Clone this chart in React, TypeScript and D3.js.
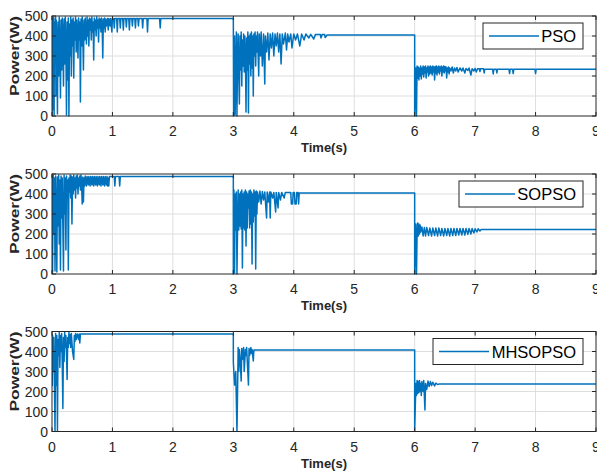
import React from 'react';
import * as d3 from 'd3';

// tick labels
const xTicks = [0, 1, 2, 3, 4, 5, 6, 7, 8, 9];
const yTicks = [0, 100, 200, 300, 400, 500];
const seriesNames = ['PSO', 'SOPSO', 'MHSOPSO'];

// [time (s), power (W)]
const psoA: [number, number][] = [
  [0, 0], [0.005, 480], [0.01, 30], [0.015, 495], [0.02, 250], [0.03, 490], [0.035, 5], [0.04, 470], [0.05, 300], [0.06, 495],
  [0.065, 100], [0.07, 480], [0.08, 380], [0.09, 10], [0.1, 470], [0.11, 200], [0.12, 495], [0.13, 340], [0.14, 90], [0.15, 480],
  [0.16, 230], [0.17, 490], [0.18, 400], [0.19, 150], [0.2, 485], [0.21, 260], [0.22, 495], [0.23, 330], [0.24, 5], [0.25, 470],
  [0.26, 180], [0.27, 490], [0.28, 0], [0.29, 460], [0.3, 300], [0.31, 495], [0.32, 200], [0.33, 480], [0.34, 350], [0.35, 490],
  [0.36, 190], [0.37, 470], [0.38, 380], [0.39, 495], [0.4, 320], [0.41, 480], [0.42, 410], [0.43, 290], [0.44, 490], [0.45, 380],
  [0.46, 470], [0.47, 70], [0.48, 485], [0.49, 350], [0.5, 495], [0.51, 400], [0.52, 230], [0.53, 480], [0.54, 380], [0.55, 490],
  [0.56, 420], [0.57, 360], [0.58, 495], [0.59, 400], [0.6, 480], [0.61, 350], [0.62, 490], [0.63, 430], [0.64, 485], [0.65, 380],
  [0.66, 495], [0.67, 420], [0.68, 470], [0.69, 280], [0.7, 490], [0.71, 430], [0.72, 480], [0.73, 400], [0.74, 495], [0.75, 440],
  [0.76, 480], [0.77, 370], [0.78, 490], [0.79, 440], [0.8, 485], [0.81, 420], [0.82, 490], [0.83, 450], [0.84, 290], [0.85, 485],
  [0.86, 440], [0.87, 490], [0.88, 420], [0.89, 485], [0.9, 450], [0.92, 488], [0.93, 430], [0.94, 488], [0.96, 450], [0.97, 488],
  [0.99, 420], [1.0, 488], [1.02, 488], [1.03, 440], [1.04, 488], [1.07, 488], [1.08, 420], [1.09, 488], [1.12, 488], [1.13, 440],
  [1.14, 488], [1.17, 488], [1.18, 430], [1.19, 488], [1.22, 488], [1.23, 445], [1.24, 488], [1.27, 488], [1.28, 430], [1.29, 488],
  [1.32, 488], [1.33, 450], [1.34, 488], [1.37, 488], [1.38, 440], [1.39, 488], [1.42, 488], [1.43, 450], [1.44, 488], [1.49, 488],
  [1.5, 440], [1.51, 488], [1.57, 488], [1.58, 420], [1.59, 488], [1.78, 488], [1.79, 440], [1.8, 488], [3.0, 488],
];
const psoB: [number, number][] = [
  [3.0, 488], [3.005, 0], [3.02, 400], [3.03, 5], [3.04, 220], [3.05, 420], [3.06, 0], [3.07, 300], [3.08, 410], [3.09, 200],
  [3.1, 60], [3.11, 400], [3.12, 230], [3.13, 420], [3.14, 150], [3.15, 380], [3.16, 250], [3.17, 410], [3.18, 220], [3.19, 400],
  [3.2, 300], [3.21, 20], [3.22, 390], [3.23, 230], [3.24, 420], [3.25, 15], [3.26, 400], [3.27, 260], [3.28, 410], [3.29, 200],
  [3.3, 420], [3.31, 240], [3.32, 400], [3.33, 100], [3.34, 410], [3.35, 300], [3.36, 420], [3.37, 250], [3.38, 400], [3.39, 320],
  [3.4, 420], [3.42, 200], [3.43, 410], [3.45, 300], [3.46, 420], [3.48, 250], [3.5, 410], [3.52, 160], [3.53, 400], [3.55, 320],
  [3.57, 415], [3.59, 280], [3.61, 410], [3.63, 340], [3.65, 415], [3.67, 300], [3.69, 410], [3.71, 350], [3.73, 415], [3.75, 320],
  [3.77, 410], [3.79, 260], [3.81, 410], [3.83, 360], [3.86, 415], [3.88, 330], [3.9, 410], [3.92, 370], [3.95, 410], [3.97, 340],
  [4.0, 410], [4.03, 380], [4.06, 410], [4.1, 350], [4.13, 410], [4.17, 380], [4.2, 410], [4.25, 390], [4.28, 408], [4.33, 385],
  [4.36, 408], [4.44, 408], [4.45, 390], [4.47, 408], [4.51, 408], [4.52, 392], [4.55, 405], [6.0, 405],
];
const psoC: [number, number][] = [
  [6.0, 405], [6.0, 0], [6.02, 240], [6.03, 0], [6.04, 250], [6.05, 190], [6.06, 245], [6.07, 180], [6.08, 240], [6.09, 200],
  [6.1, 250], [6.11, 185], [6.12, 240], [6.13, 210], [6.14, 250], [6.15, 195], [6.16, 245], [6.17, 215], [6.18, 250], [6.19, 190],
  [6.2, 240], [6.21, 220], [6.22, 250], [6.23, 200], [6.24, 245], [6.25, 210], [6.26, 250], [6.27, 215], [6.28, 245], [6.29, 205],
  [6.3, 250], [6.31, 220], [6.32, 245], [6.33, 180], [6.34, 248], [6.35, 215], [6.36, 250], [6.37, 205], [6.38, 245], [6.39, 220],
  [6.4, 250], [6.41, 210], [6.42, 245], [6.43, 225], [6.44, 250], [6.45, 200], [6.46, 245], [6.47, 220], [6.48, 250], [6.49, 215],
  [6.5, 248], [6.51, 225], [6.52, 245], [6.53, 190], [6.54, 240], [6.55, 220], [6.56, 245], [6.57, 210], [6.58, 240], [6.6, 225],
  [6.62, 245], [6.64, 215], [6.66, 240], [6.68, 225], [6.7, 243], [6.72, 220], [6.75, 240], [6.78, 225], [6.8, 240], [6.83, 215],
  [6.85, 238], [6.88, 228], [6.9, 240], [6.93, 205], [6.95, 236], [6.98, 225], [7.0, 238], [7.02, 220], [7.04, 236], [7.07, 236],
  [7.08, 222], [7.09, 236], [7.14, 236], [7.15, 215], [7.16, 234], [7.29, 234], [7.3, 210], [7.31, 234], [7.35, 234], [7.36, 215],
  [7.37, 234], [7.56, 234], [7.57, 212], [7.58, 234], [7.62, 234], [7.63, 212], [7.64, 234], [7.99, 234], [8.0, 212], [8.01, 234],
  [9, 234],
];

const sopsoA: [number, number][] = [
  [0, 0], [0.005, 490], [0.01, 10], [0.02, 495], [0.03, 200], [0.04, 480], [0.05, 15], [0.06, 490], [0.07, 300], [0.08, 10],
  [0.09, 485], [0.1, 240], [0.11, 495], [0.12, 150], [0.13, 470], [0.14, 20], [0.15, 490], [0.16, 280], [0.17, 480], [0.18, 230],
  [0.19, 15], [0.2, 495], [0.21, 300], [0.22, 480], [0.23, 120], [0.24, 490], [0.25, 380], [0.26, 470], [0.27, 20], [0.28, 480],
  [0.29, 410], [0.3, 495], [0.31, 380], [0.32, 490], [0.33, 250], [0.34, 485], [0.35, 400], [0.36, 495], [0.37, 420], [0.38, 480],
  [0.39, 380], [0.4, 490], [0.41, 430], [0.42, 495], [0.43, 400], [0.44, 480], [0.45, 440], [0.46, 490], [0.47, 420], [0.48, 495],
  [0.49, 440], [0.5, 350], [0.51, 485], [0.52, 360], [0.53, 480], [0.54, 440], [0.55, 490], [0.57, 440], [0.58, 488], [0.6, 445],
  [0.61, 488], [0.63, 440], [0.64, 488], [0.66, 445], [0.67, 488], [0.69, 440], [0.7, 488], [0.72, 445], [0.73, 488], [0.75, 440],
  [0.76, 488], [0.78, 445], [0.79, 488], [0.81, 440], [0.82, 488], [0.84, 445], [0.85, 488], [0.87, 440], [0.88, 488], [0.9, 445],
  [0.91, 488], [0.92, 440], [0.93, 480], [0.94, 440], [0.95, 488], [1.03, 488], [1.04, 440], [1.05, 488], [1.11, 488], [1.12, 440],
  [1.13, 488], [3.0, 488],
];
const sopsoB: [number, number][] = [
  [3.0, 488], [3.0, 0], [3.01, 420], [3.02, 5], [3.03, 400], [3.04, 220], [3.05, 410], [3.06, 0], [3.07, 230], [3.08, 420],
  [3.09, 220], [3.1, 400], [3.11, 240], [3.12, 410], [3.13, 225], [3.14, 420], [3.15, 30], [3.16, 400], [3.17, 230], [3.18, 410],
  [3.19, 220], [3.2, 420], [3.21, 140], [3.22, 410], [3.23, 230], [3.24, 400], [3.25, 330], [3.26, 415], [3.27, 230], [3.28, 420],
  [3.29, 250], [3.3, 410], [3.31, 50], [3.32, 400], [3.33, 260], [3.34, 420], [3.35, 290], [3.36, 410], [3.37, 25], [3.38, 415],
  [3.39, 300], [3.4, 410], [3.42, 360], [3.44, 415], [3.46, 350], [3.48, 412], [3.5, 370], [3.52, 410], [3.55, 280], [3.56, 410],
  [3.58, 360], [3.6, 410], [3.61, 280], [3.62, 410], [3.65, 380], [3.67, 408], [3.7, 310], [3.71, 408], [3.74, 330], [3.75, 408],
  [3.78, 370], [3.8, 408], [3.84, 380], [3.86, 408], [3.95, 408], [3.96, 350], [3.98, 350], [3.99, 408], [4.01, 408], [4.02, 350],
  [4.04, 350], [4.05, 408], [4.07, 408], [4.08, 350], [4.09, 405], [6.0, 405],
];
const sopsoC: [number, number][] = [
  [6.0, 405], [6.0, 0], [6.02, 250], [6.03, 0], [6.04, 200], [6.05, 255], [6.06, 190], [6.07, 250], [6.08, 200], [6.09, 245],
  [6.1, 210], [6.12, 235], [6.14, 190], [6.16, 232], [6.18, 190], [6.2, 232], [6.23, 192], [6.25, 230], [6.28, 190], [6.3, 230],
  [6.33, 192], [6.35, 230], [6.38, 190], [6.4, 230], [6.43, 192], [6.45, 228], [6.48, 190], [6.5, 228], [6.53, 192], [6.55, 228],
  [6.58, 190], [6.6, 228], [6.63, 192], [6.65, 228], [6.68, 192], [6.7, 228], [6.73, 195], [6.75, 228], [6.78, 195], [6.8, 228],
  [6.83, 195], [6.85, 228], [6.88, 198], [6.9, 228], [6.93, 200], [6.95, 227], [6.98, 205], [7.0, 226], [7.03, 210], [7.05, 226],
  [7.08, 215], [7.1, 222], [9, 222],
];

const mhsopsoA: [number, number][] = [
  [0, 488], [0.005, 230], [0.01, 480], [0.02, 300], [0.03, 470], [0.05, 0], [0.06, 490], [0.07, 230], [0.08, 480], [0.09, 0],
  [0.1, 460], [0.11, 380], [0.12, 495], [0.13, 320], [0.14, 480], [0.15, 400], [0.16, 490], [0.17, 330], [0.18, 115], [0.19, 470],
  [0.2, 350], [0.21, 495], [0.22, 420], [0.23, 480], [0.24, 380], [0.25, 260], [0.26, 470], [0.27, 420], [0.28, 495], [0.29, 440],
  [0.3, 485], [0.31, 420], [0.32, 490], [0.33, 445], [0.34, 400], [0.36, 360], [0.37, 480], [0.38, 450], [0.39, 490], [0.4, 460],
  [0.42, 488], [0.44, 460], [0.45, 488], [0.46, 443], [0.47, 488], [3.0, 488],
];
const mhsopsoB: [number, number][] = [
  [3.0, 488], [3.0, 350], [3.02, 232], [3.04, 300], [3.06, 0], [3.07, 200], [3.08, 420], [3.09, 300], [3.1, 410], [3.11, 380],
  [3.13, 252], [3.14, 415], [3.15, 360], [3.17, 420], [3.18, 300], [3.2, 410], [3.21, 380], [3.22, 420], [3.25, 232], [3.26, 415],
  [3.27, 380], [3.29, 420], [3.3, 390], [3.31, 410], [3.33, 353], [3.34, 408], [3.35, 408], [6.0, 408],
];
const mhsopsoC: [number, number][] = [
  [6.0, 408], [6.0, 0], [6.02, 240], [6.03, 180], [6.04, 255], [6.05, 190], [6.06, 250], [6.07, 195], [6.08, 255], [6.09, 200],
  [6.1, 240], [6.11, 180], [6.12, 250], [6.14, 200], [6.15, 255], [6.17, 108], [6.18, 240], [6.2, 210], [6.22, 252], [6.24, 225],
  [6.26, 250], [6.28, 230], [6.3, 246], [6.33, 228], [6.35, 242], [6.38, 235], [6.4, 237], [9, 237],
];

const seriesData = [
  psoA.concat(psoB, psoC),
  sopsoA.concat(sopsoB, sopsoC),
  mhsopsoA.concat(mhsopsoB, mhsopsoC),
];

// layout
const W = 597;
const H = 473;
const plotLeft = 52;
const plotRight = 596;
const panelTops = [16, 174, 331.5];
const panelH = 100;
const legendLeft = [483, 459, 433];
const BLUE = '#0072BD';
const AXIS = '#262626';
const GRID = '#dedede';
const FONT = '"Liberation Sans", Arial, Helvetica, sans-serif';

function Panel({ idx }: { idx: number }) {
  const top = panelTops[idx];
  const bottom = top + panelH;
  const x = d3.scaleLinear().domain([0, 9]).range([plotLeft, plotRight]);
  const y = d3.scaleLinear().domain([0, 500]).range([bottom, top]);
  const line = d3.line<[number, number]>()
    .x(d => x(d[0]))
    .y(d => y(d[1]));
  const clipId = 'clip' + idx;
  const legTop = top + 7;
  const legRight = 583;
  const legL = legendLeft[idx];
  const midY = (top + bottom) / 2;

  return (
    <g>
      <defs>
        <clipPath id={clipId}>
          <rect x={plotLeft} y={top - 1} width={plotRight - plotLeft} height={panelH + 2} />
        </clipPath>
      </defs>
      <rect x={plotLeft} y={top} width={plotRight - plotLeft} height={panelH} fill="#fff" />
      {xTicks.slice(1, -1).map(t => (
        <line key={'gx' + t} x1={x(t)} x2={x(t)} y1={top} y2={bottom} stroke={GRID} strokeWidth={1} />
      ))}
      {yTicks.slice(1, -1).map(t => (
        <line key={'gy' + t} x1={plotLeft} x2={plotRight} y1={y(t)} y2={y(t)} stroke={GRID} strokeWidth={1} />
      ))}
      <path d={line(seriesData[idx]) || ''} fill="none" stroke={BLUE} strokeWidth={1.5}
        strokeLinejoin="round" clipPath={`url(#${clipId})`} />
      <rect x={plotLeft} y={top} width={plotRight - plotLeft} height={panelH} fill="none" stroke={AXIS} strokeWidth={1} />
      {xTicks.map(t => (
        <g key={'tx' + t}>
          <line x1={x(t)} x2={x(t)} y1={bottom} y2={bottom - 4} stroke={AXIS} />
          <line x1={x(t)} x2={x(t)} y1={top} y2={top + 4} stroke={AXIS} />
          <text x={x(t)} y={bottom + 20} textAnchor="middle" fontSize={14} fill={AXIS} fontFamily={FONT}>{t}</text>
        </g>
      ))}
      {yTicks.map(t => (
        <g key={'ty' + t}>
          <line x1={plotLeft} x2={plotLeft + 4} y1={y(t)} y2={y(t)} stroke={AXIS} />
          <line x1={plotRight} x2={plotRight - 4} y1={y(t)} y2={y(t)} stroke={AXIS} />
          <text x={48} y={y(t) + 5} textAnchor="end" fontSize={14} fill={AXIS} fontFamily={FONT}>{t}</text>
        </g>
      ))}
      <text x={(plotLeft + plotRight) / 2} y={bottom + 36} textAnchor="middle" fontSize={13} fontWeight="bold"
        fill={AXIS} fontFamily={FONT}>Time(s)</text>
      <text transform={`translate(19,${midY - 10}) rotate(-90)`} textAnchor="middle" fontSize={13} fontWeight="bold"
        fill={AXIS} fontFamily={FONT} textLength={80} lengthAdjust="spacingAndGlyphs">Power(W)</text>
      <rect x={legL} y={legTop} width={legRight - legL} height={26} fill="#fff" stroke={AXIS} strokeWidth={1} />
      <line x1={legL + 6} x2={legL + 56} y1={legTop + 13} y2={legTop + 13} stroke={BLUE} strokeWidth={1.5} />
      <text x={legRight - 7} y={legTop + 19} textAnchor="end" fontSize={16.5} fill="#000" fontFamily={FONT}>
        {seriesNames[idx]}
      </text>
    </g>
  );
}

export default function App() {
  return (
    <div style={{ position: 'fixed', left: 0, top: 0, width: W, height: H, background: '#fff' }}>
      <svg width={W} height={H} style={{ display: 'block' }}>
        <rect width={W} height={H} fill="#fff" />
        {seriesNames.map((_, i) => <Panel key={i} idx={i} />)}
      </svg>
    </div>
  );
}
